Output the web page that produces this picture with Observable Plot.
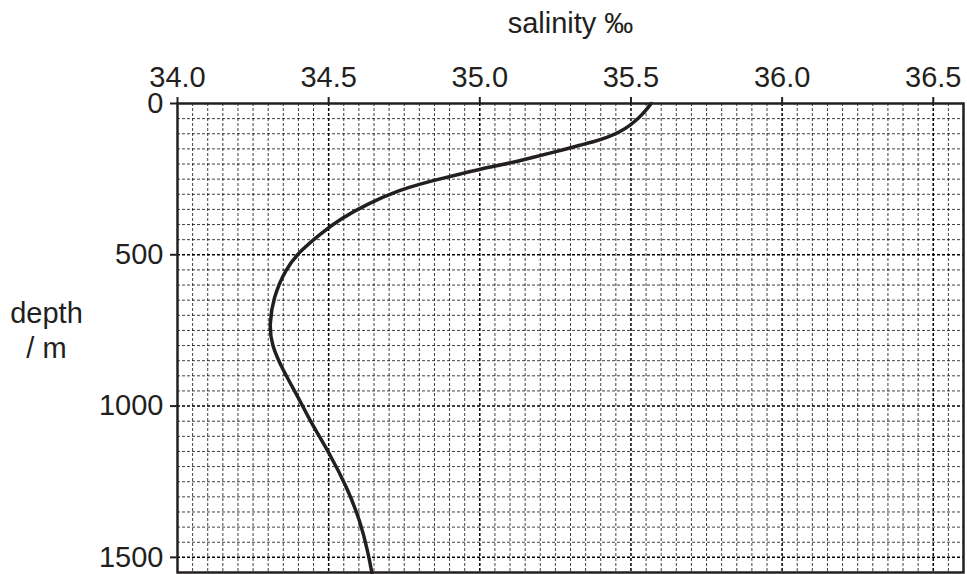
<!DOCTYPE html>
<html>
<head>
<meta charset="utf-8">
<script src="https://cdn.jsdelivr.net/npm/d3@7"></script>
<script src="https://cdn.jsdelivr.net/npm/@observablehq/plot@0.6"></script>
<style>
  html, body { margin: 0; padding: 0; background: #fff; }
  svg { display: block; }
</style>
</head>
<body>
<div id="chart"></div>
<script>
// Depth (m) and salinity (‰) read from the profile
const depths   = [0, 27, 50, 72, 94, 113, 127, 138, 150, 164, 178, 191, 202, 216, 233, 249, 266, 285, 332, 382, 431, 487, 547, 642, 729, 796, 884, 983, 1050, 1160, 1270, 1381, 1491, 1552];
const salinity = [35.567, 35.546, 35.524, 35.497, 35.464, 35.420, 35.375, 35.331, 35.287, 35.232, 35.177, 35.124, 35.074, 35.005, 34.935, 34.869, 34.803, 34.737, 34.627, 34.538, 34.472, 34.406, 34.357, 34.317, 34.304, 34.310, 34.350, 34.406, 34.439, 34.505, 34.561, 34.605, 34.632, 34.643];

const xTicks = [34.0, 34.5, 35.0, 35.5, 36.0, 36.5];
const yTicks = [0, 500, 1000, 1500];
const xTitle = "salinity ‰";
const yTitle = "depth\n/ m";

const profile = depths.map((d, i) => ({depth: d, sal: salinity[i]}));
const xMinor = d3.range(34.05, 36.59, 0.05).map(v => +v.toFixed(2)).filter(v => !xTicks.some(t => Math.abs(t - v) < 1e-6));
const yMinor = d3.range(50, 1549, 50).filter(v => !yTicks.includes(v));

const ink = "#231f20";
const fs = 29;

const chart = Plot.plot({
  width: 967,
  height: 574,
  marginTop: 103,
  marginLeft: 177,
  marginRight: 4,
  marginBottom: 2,
  style: {fontFamily: "'Liberation Sans', Arial, sans-serif", fontSize: fs + "px", color: ink, background: "#fff"},
  x: {domain: [34, 36.6]},
  y: {domain: [0, 1550], reverse: true},
  marks: [
    Plot.gridX(xMinor, {stroke: "#000", strokeOpacity: 0.75, strokeWidth: 1, strokeDasharray: "3,2"}),
    Plot.gridY(yMinor, {stroke: "#000", strokeOpacity: 0.75, strokeWidth: 1, strokeDasharray: "3,2"}),
    Plot.gridX(xTicks.slice(1), {stroke: "#000", strokeOpacity: 1, strokeWidth: 1.5, strokeDasharray: "3,2"}),
    Plot.gridY(yTicks.slice(1), {stroke: "#000", strokeOpacity: 1, strokeWidth: 1.5, strokeDasharray: "3,2"}),
    Plot.line(profile, {x: "sal", y: "depth", curve: "basis", stroke: ink, strokeWidth: 3.5}),
    Plot.frame({stroke: ink, strokeWidth: 2.5}),
    Plot.axisX(xTicks, {anchor: "top", tickSize: 7, tickPadding: 10, strokeWidth: 2, stroke: ink, fontSize: fs, tickFormat: d3.format(".1f"), label: null}),
    Plot.axisY(yTicks, {anchor: "left", tickSize: 7, tickPadding: 7, strokeWidth: 2, stroke: ink, fontSize: fs, tickFormat: d3.format("d"), label: null}),
    Plot.text([xTitle], {text: d => d, frameAnchor: "top", dy: -71, lineAnchor: "bottom", fontSize: fs, fill: ink}),
    Plot.text([yTitle], {text: d => d, frameAnchor: "left", dx: -131, dy: 20, lineAnchor: "bottom", lineHeight: 1.2, textAnchor: "middle", fontSize: fs, fill: ink})
  ]
});
document.getElementById("chart").appendChild(chart);
</script>
</body>
</html>
